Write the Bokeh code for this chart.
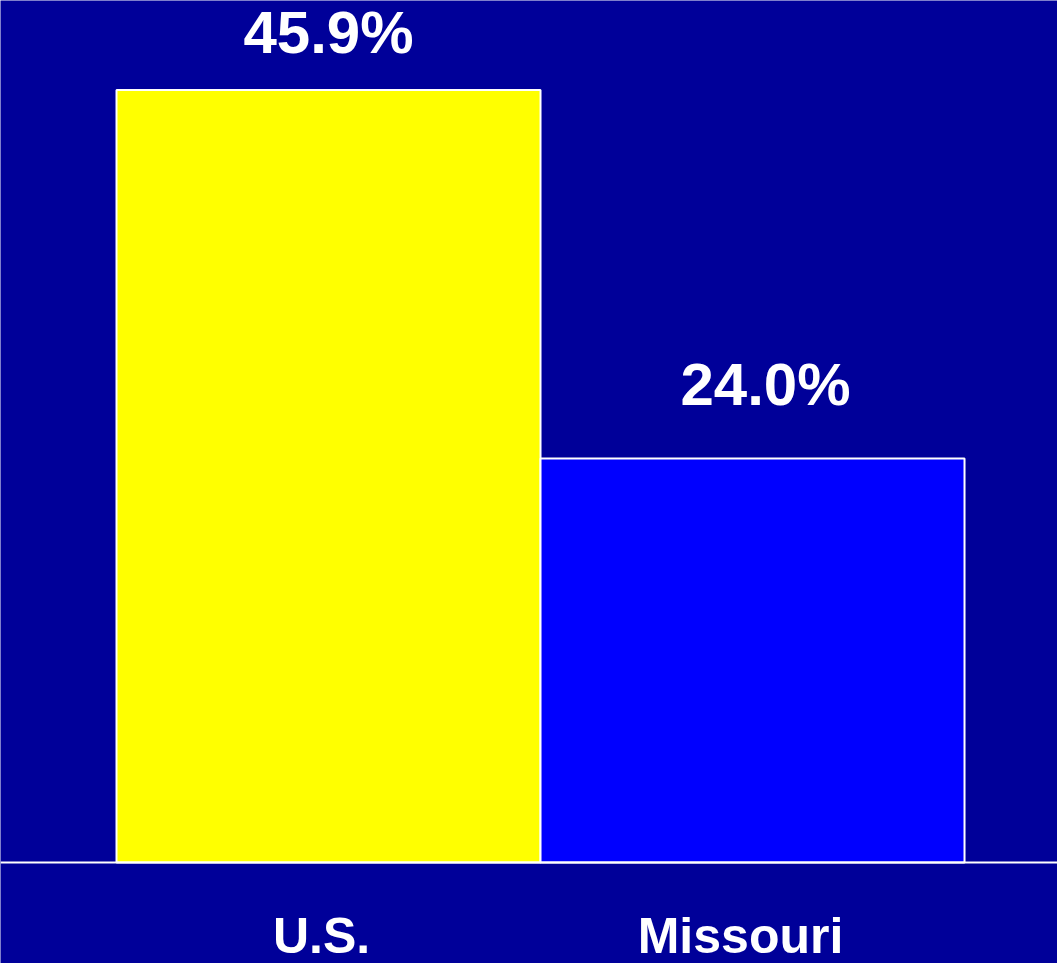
from bokeh.plotting import figure
from bokeh.models import ColumnDataSource, Range1d, Span
from bokeh.core.properties import value
from bokeh.embed import file_html
from bokeh.resources import INLINE

# ---- data ----
categories = ["U.S.", "Missouri"]
percents = [45.9, 24.0]
labels = ["45.9%", "24.0%"]
bar_colors = ["#FFFF00", "#0000FF"]

# ---- layout helpers (not data) ----
xpos = [i + 0.5 for i in range(len(categories))]
label_x_off = [0, 13]
label_y_off = [-58, -74]
cat_x_off = [-7, -12]
cat_y_off = [73, 73]

BG = "#000099"
src = ColumnDataSource(dict(x=xpos, top=percents, color=bar_colors, label=labels,
                            xo=label_x_off, yo=label_y_off))
csrc = ColumnDataSource(dict(x=xpos, y=[0] * len(categories), cat=categories,
                             xo=cat_x_off, yo=cat_y_off))

p = figure(width=1057, height=963, output_backend="svg", toolbar_location=None,
           x_range=Range1d(-0.2736, 2.2193), y_range=Range1d(-6.0, 51.22),
           x_axis_location=None, y_axis_location=None,
           min_border_left=0, min_border_right=0, min_border_top=0, min_border_bottom=0)
p.background_fill_color = BG
p.border_fill_color = BG
p.outline_line_color = None
p.grid.visible = False

p.vbar(x="x", top="top", bottom=0, width=1.0, fill_color="color",
       line_color="white", line_width=2, source=src)

# baseline
p.add_layout(Span(location=0, dimension="width", line_color="white", line_width=2))

p.text(x="x", y="top", text="label", x_offset="xo", y_offset="yo", source=src,
       text_align="center", text_baseline="alphabetic", text_color="white",
       text_font=value("Liberation Sans"), text_font_style="bold", text_font_size="60px")

p.text(x="x", y="y", text="cat", x_offset="xo", y_offset="yo", source=csrc,
       text_align="center", text_baseline="alphabetic", text_color="white",
       text_font=value("Liberation Sans"), text_font_style="bold", text_font_size="50px")

html = file_html(p, INLINE)
html = html.replace("<body>", '<body style="margin:0;background:%s;overflow:hidden">' % BG, 1)
open("out.html", "w").write(html)
